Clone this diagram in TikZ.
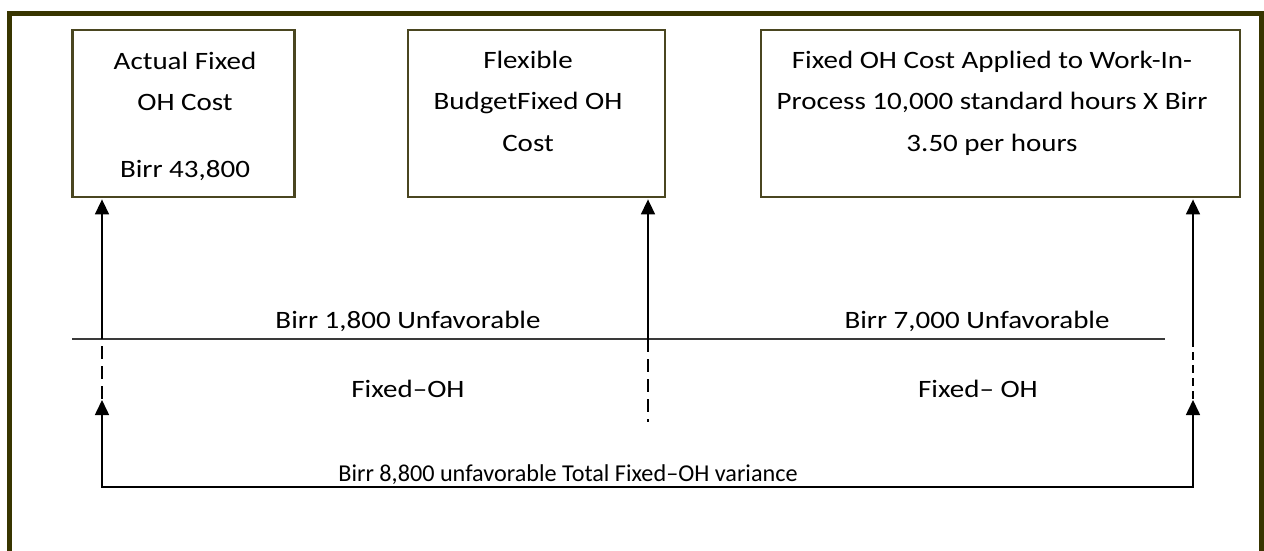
\documentclass[tikz,border=0pt]{standalone}
\usepackage{fontspec}
\setmainfont{Carlito}[FakeStretch=1.16]
\newfontfamily\narrowfont{Carlito}
\usetikzlibrary{arrows.meta}
\definecolor{frameol}{HTML}{383500}
\definecolor{boxol}{HTML}{4A4620}
\definecolor{rulegray}{HTML}{3A3A3A}

\begin{document}
\begin{tikzpicture}[x=1pt,y=-1pt,
  frameline/.style={line width=5pt,draw=frameol,line join=miter},
  costbox/.style={draw=boxol,line width=2.4pt,inner sep=0pt,minimum height=167pt},
  lbl/.style={font=\fontsize{25}{41.5}\selectfont,inner sep=0pt,align=center,anchor=base},
  uparrow/.style={line width=1.6pt,-{Triangle[width=14pt,length=15pt]},shorten >=1.2pt},
  rulerline/.style={line width=2.2pt,draw=rulegray},
  longdash/.style={line width=1.6pt,dash pattern=on 13pt off 7pt},
  shortdash/.style={line width=1.6pt,dash pattern=on 8pt off 5pt},
  bothends/.style={line width=1.6pt,{Triangle[width=14pt,length=15pt]}-{Triangle[width=14pt,length=15pt]},line join=miter}
]
\useasboundingbox (0,0) rectangle (1264,550);

% outer frame (open at the bottom)
\draw[frameline] (9.5,552) -- (9.5,13.5) -- (1261.5,13.5) -- (1261.5,552);

% the three cost boxes
\node[costbox,minimum width=222pt] (actual) at (183.5,113.5) {};
\node[costbox,minimum width=257pt] (flex)   at (536.5,113.5) {};
\node[costbox,minimum width=479pt] (applied) at (1000.5,113.5) {};

% box captions (base anchor = baseline of the last line)
\node[lbl] (actualtxt) at (185,177) {Actual Fixed\\OH Cost\\[25pt]Birr 43,800};
\node[lbl] (flextxt) at (528,151) {Flexible\\BudgetFixed OH\\Cost};
\node[lbl] (appliedtxt) at (992,151) {Fixed OH Cost Applied to Work-In-\\Process 10,000 standard hours X Birr\\3.50 per hours};

% variance rule
\coordinate (rl) at (72,339);
\coordinate (rr) at (1165,339);
\draw[rulerline] (rl) -- (rr);

% points on the rule below each box
\coordinate (m1) at (102,339);
\coordinate (m2) at (648,339);
\coordinate (m3) at (1193,339);

\draw[uparrow] (m1) -- (m1 |- actual.south);
\draw[uparrow] (m2) -- (m2 |- flex.south);
\draw[uparrow] (m3) -- (m3 |- applied.south);

% dashed continuations below the rule
\coordinate (d1) at (102,346);
\coordinate (t1) at (102,400);
\coordinate (d2) at (648,422);
\coordinate (t3) at (1193,400);
\draw[longdash] (d1) -- (t1);
\draw[longdash] (m2) -- (d2);
\draw[shortdash] (m3) -- (t3);

% total variance bracket
\coordinate (c1) at (102,487);
\coordinate (c3) at (1193,487);
\draw[bothends] (t1) -- (c1) -- (c3) -- (t3);

% variance labels
\node[lbl] (v1) at (408,328) {Birr 1,800 Unfavorable};
\node[lbl] (v2) at (977,328) {Birr 7,000 Unfavorable};
\node[lbl] (f1) at (408,397) {Fixed–OH};
\node[lbl] (f2) at (978,397) {Fixed– OH};
\node[lbl,font=\narrowfont\fontsize{24.2}{30}\selectfont] (tot) at (568,481) {Birr 8,800 unfavorable Total Fixed–OH variance};
\end{tikzpicture}
\end{document}
